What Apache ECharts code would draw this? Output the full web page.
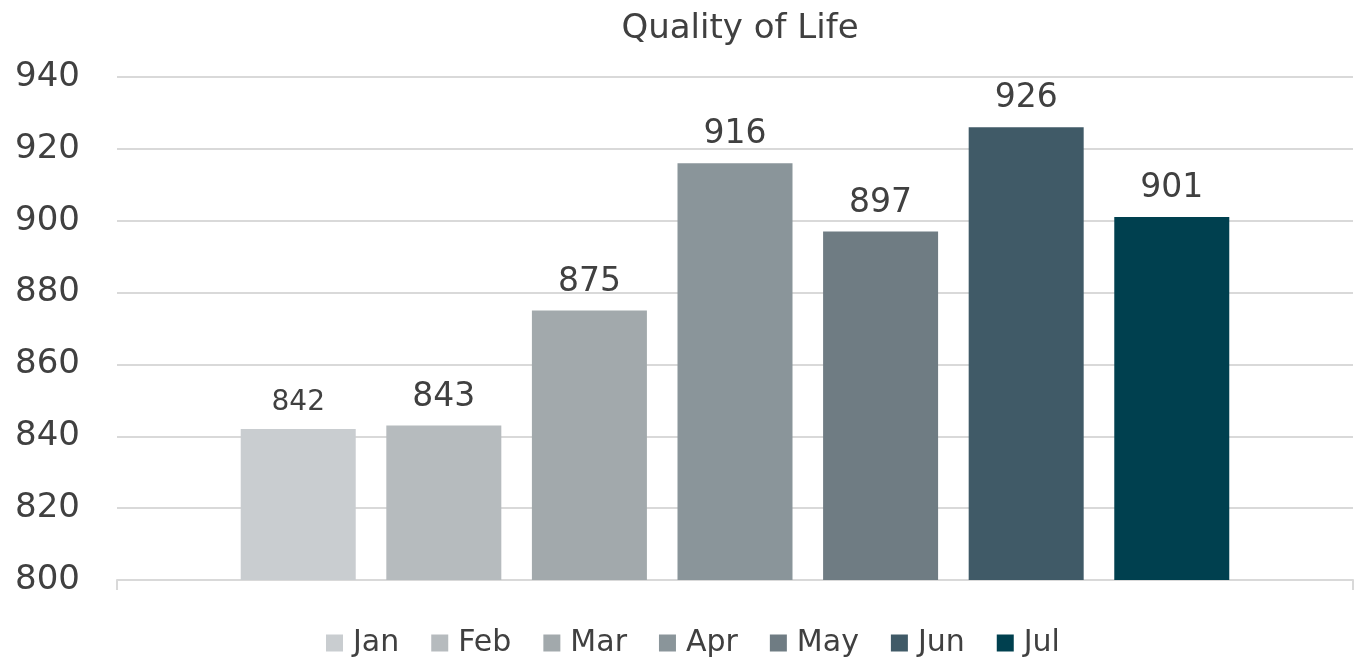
<!DOCTYPE html>
<html><head><meta charset="utf-8">
<script src="https://cdn.jsdelivr.net/npm/echarts@6/dist/echarts.min.js"></script>
<style>html,body{margin:0;padding:0;background:#fff}#c{width:1356px;height:661px}</style>
</head><body><div id="c"></div>
<script>
const title = 'Quality of Life';
const seriesNames = ['Jan','Feb','Mar','Apr','May','Jun','Jul'];
const values = [842, 843, 875, 916, 897, 926, 901];
const colors = ['#c9cdd0','#b6bbbe','#a2a9ac','#8a959a','#6f7c83','#405a67','#00404f'];
const labelSizes = [28, 33, 33, 33, 33, 33, 33];
const yMin = 800, yMax = 940, yStep = 20;

const FONT = 'DejaVu Sans';
const chart = echarts.init(document.getElementById('c'), null, {renderer:'canvas'});
chart.setOption({
  animation:false,
  title:{text:title,left:735,textAlign:'center',top:7,textStyle:{fontFamily:FONT,fontSize:34,fontWeight:'normal',color:'#404040'}},
  legend:{bottom:-2,left:321,itemWidth:17,itemHeight:17,itemGap:32,icon:'rect',
    textStyle:{fontFamily:FONT,fontSize:30,color:'#404040',padding:[0,0,0,5]},data:seriesNames},
  grid:{left:117,right:3,top:77,bottom:81,containLabel:false},
  xAxis:{type:'category',data:[''],axisLine:{lineStyle:{color:'#d9d9d9',width:2}},
    axisTick:{show:true,length:10,lineStyle:{color:'#d9d9d9',width:2}},axisLabel:{show:false}},
  yAxis:{type:'value',min:yMin,max:yMax,interval:yStep,
    axisLine:{show:false},axisTick:{show:false},
    splitLine:{lineStyle:{color:'#d9d9d9',width:2}},
    axisLabel:{fontFamily:FONT,fontSize:34,color:'#404040',margin:37}},
  series:seriesNames.map((n,i)=>({
    name:n,type:'bar',data:[values[i]],barWidth:115,barGap:'26.6%',
    itemStyle:{color:colors[i]},
    label:{show:true,position:'top',distance:12,fontFamily:FONT,fontSize:labelSizes[i],color:'#404040'}
  }))
});
</script></body></html>
